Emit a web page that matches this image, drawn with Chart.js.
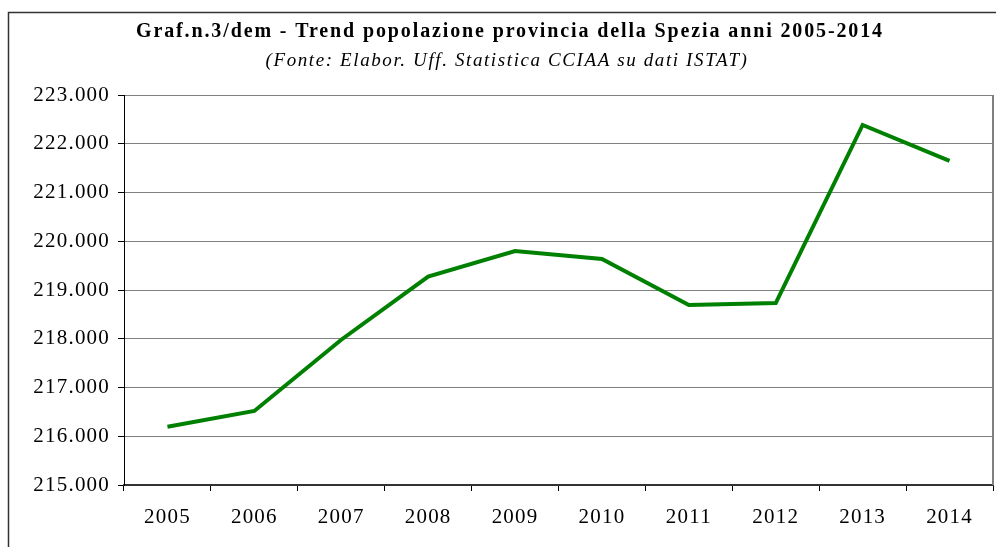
<!DOCTYPE html>
<html>
<head>
<meta charset="utf-8">
<script src="https://cdn.jsdelivr.net/npm/chart.js@4.4.0/dist/chart.umd.min.js"></script>
<style>
  html, body { margin: 0; padding: 0; background: #fff; }
  #wrap { width: 996px; height: 547px; }
</style>
</head>
<body>
<div id="wrap"><canvas id="myChart" width="996" height="547"></canvas></div>
<script>
// anni e popolazione residente
var anni = ['2005', '2006', '2007', '2008', '2009', '2010', '2011', '2012', '2013', '2014'];
var popolazione = [216196, 216518, 217980, 219273, 219800, 219636, 218692, 218733, 222385, 221650];
var yMin = 215000;
var yMax = 223000;
var yStep = 1000;

var titolo = 'Graf.n.3/dem - Trend popolazione provincia della Spezia anni 2005-2014';
var sottotitolo = '(Fonte: Elabor. Uff. Statistica CCIAA su dati ISTAT)';

function formatIt(v) {
    return String(Math.round(v)).replace(/\B(?=(\d{3})+(?!\d))/g, '.');
}

// testo "spaziato" come nell'originale Excel
function spacedText(c, text, font, x, y, width) {
    c.save();
    c.font = font;
    c.letterSpacing = '0px';
    var w = c.measureText(text).width;
    var sp = (width - w) / text.length;
    c.letterSpacing = sp + 'px';
    c.textAlign = 'left';
    c.textBaseline = 'alphabetic';
    c.fillStyle = '#000';
    c.fillText(text, x - width / 2, y);
    c.restore();
}

var framePlugin = {
    id: 'frame',
    beforeLayout: function (chart) {
        chart.ctx.letterSpacing = '1.2px';
    },
    beforeDraw: function (chart) {
        var c = chart.ctx;
        c.save();
        c.fillStyle = '#fff';
        c.fillRect(0, 0, chart.width, chart.height);
        c.strokeStyle = '#333';
        c.lineWidth = 1.5;
        c.strokeRect(8.5, 12.5, chart.width + 10, chart.height + 10);
        c.restore();
        c.letterSpacing = '1.2px';
    },
    afterDatasetsDraw: function (chart) {
        var a = chart.chartArea;
        var c = chart.ctx;
        c.save();
        c.strokeStyle = '#808080';
        c.lineWidth = 2;
        c.beginPath();
        c.moveTo(a.right, a.top);
        c.lineTo(a.right, a.bottom);
        c.stroke();
        c.restore();
    },
    afterDraw: function (chart) {
        var c = chart.ctx;
        spacedText(c, titolo, 'bold 20px "Liberation Serif"', 510, 37, 748);
        spacedText(c, sottotitolo, 'italic 19px "Liberation Serif"', 507, 66, 483);
    }
};

var ctx = document.getElementById('myChart');
var myChart = new Chart(ctx, {
    type: 'line',
    data: {
        labels: anni,
        datasets: [{
            data: popolazione,
            borderColor: '#008000',
            borderWidth: 4,
            pointRadius: 0,
            tension: 0,
            fill: false
        }]
    },
    options: {
        responsive: false,
        animation: false,
        layout: {
            padding: { left: 0, right: 3, top: 95, bottom: 0 }
        },
        plugins: {
            legend: { display: false },
            tooltip: { enabled: false },
            title: { display: false },
            subtitle: { display: false }
        },
        scales: {
            x: {
                offset: true,
                afterFit: function (scale) { scale.height = 62; },
                grid: {
                    offset: true,
                    drawOnChartArea: false,
                    tickLength: 6,
                    tickColor: '#000'
                },
                border: { color: '#333', width: 2 },
                ticks: {
                    color: '#000',
                    padding: 14,
                    maxRotation: 0,
                    autoSkip: false,
                    font: { family: 'Liberation Serif', size: 21 }
                }
            },
            y: {
                min: yMin,
                max: yMax,
                afterFit: function (scale) { scale.width = 124; },
                grid: {
                    color: '#808080',
                    tickColor: '#000',
                    tickLength: 6
                },
                border: { color: '#000', width: 1 },
                ticks: {
                    stepSize: yStep,
                    color: '#000',
                    padding: 8,
                    font: { family: 'Liberation Serif', size: 21 },
                    callback: function (v) { return formatIt(v); }
                }
            }
        }
    },
    plugins: [framePlugin]
});
</script>
</body>
</html>
